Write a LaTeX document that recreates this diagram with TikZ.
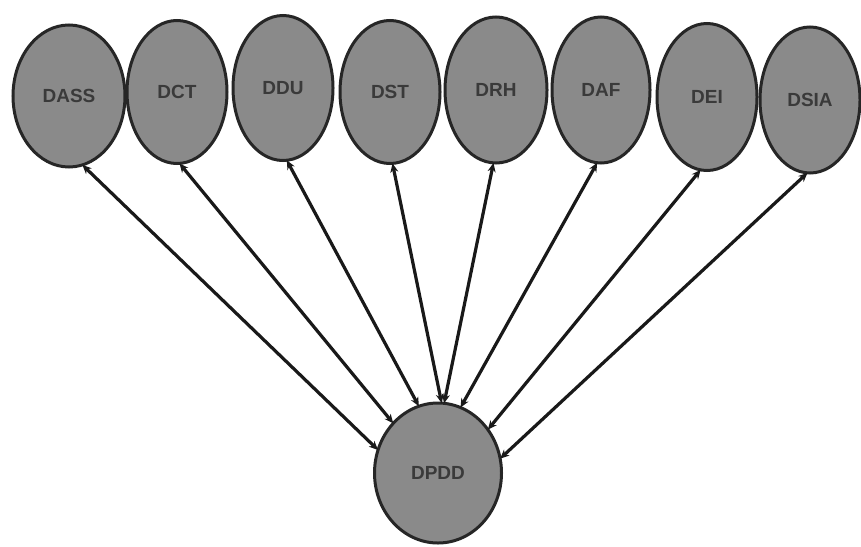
\documentclass[tikz,border=0pt]{standalone}
\usepackage{fontspec}
\setmainfont{Liberation Sans}
\usetikzlibrary{shapes.geometric,arrows.meta}
\definecolor{ovalfill}{HTML}{8A8A8A}
\definecolor{ovaltext}{HTML}{3A3A3A}
\tikzset{
  oval/.style={ellipse, draw=black!85, line width=3pt, fill=ovalfill, inner sep=0pt, outer sep=0pt,
    font=\bfseries\fontsize{19}{19}\selectfont, text=ovaltext},
  link/.style={line width=3.2pt, draw=black!90, {Stealth[length=9pt,width=8pt]}-{Stealth[length=9pt,width=8pt]}}
}
\begin{document}
\begin{tikzpicture}[x=1pt,y=-1pt]
\useasboundingbox (0,0) rectangle (861,546);
\node[oval, minimum width=112pt, minimum height=142pt] (dass) at (69,96) {DASS};
\node[oval, minimum width=100pt, minimum height=143pt] (dct) at (177,92) {DCT};
\node[oval, minimum width=100pt, minimum height=145pt] (ddu) at (283,88) {DDU};
\node[oval, minimum width=100pt, minimum height=143pt] (dst) at (390,92) {DST};
\node[oval, minimum width=102pt, minimum height=146pt] (drh) at (496,90) {DRH};
\node[oval, minimum width=98pt, minimum height=146pt] (daf) at (601,90) {DAF};
\node[oval, minimum width=100pt, minimum height=147pt] (dei) at (707,97) {DEI};
\node[oval, minimum width=100pt, minimum height=146pt] (dsia) at (810,100) {DSIA};
\node[oval, minimum width=127pt, minimum height=140pt] (dpdd) at (438,473) {DPDD};
\draw[link] (dass.-79) -- (dpdd.159);
\draw[link] (dct.-88) -- (dpdd.132);
\draw[link] (ddu.-87) -- (dpdd.106);
\draw[link] (dst.-88) -- (dpdd.87);
\draw[link] (drh.-92) -- (dpdd.85);
\draw[link] (daf.-93) -- (dpdd.71);
\draw[link] (dei.-95) -- (dpdd.41);
\draw[link] (dsia.-92) -- (dpdd.13);
\end{tikzpicture}
\end{document}
